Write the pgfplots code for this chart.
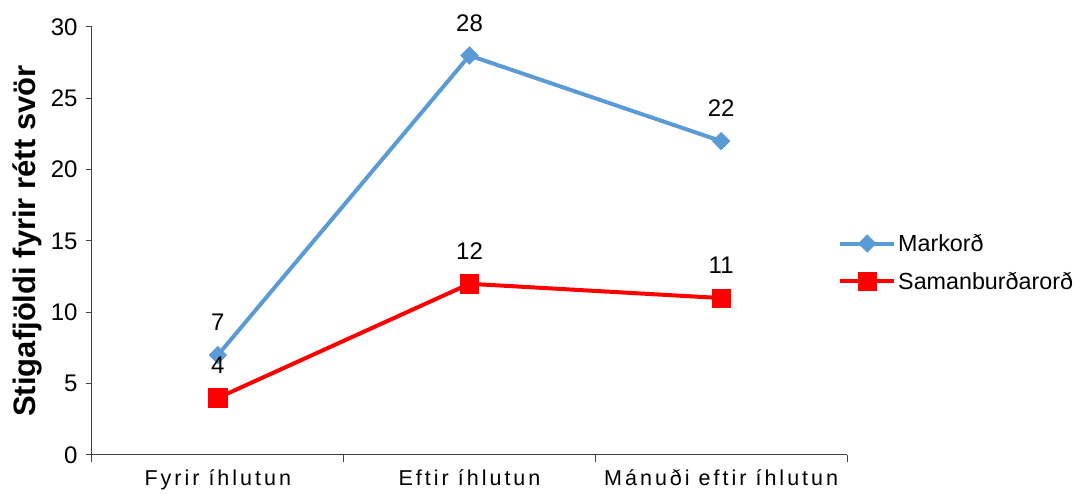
\documentclass[border=0pt]{standalone}
\usepackage{fontspec}
\setmainfont{Liberation Sans}
\newfontfamily\spaced[LetterSpace=14]{Liberation Sans}
\usepackage{pgfplots}
\pgfplotsset{compat=1.18}
\usetikzlibrary{calc}
\definecolor{markord}{HTML}{5B9BD5}
\definecolor{saman}{HTML}{FF0000}
\definecolor{axline}{HTML}{404040}

\begin{document}
\begin{tikzpicture}
\begin{axis}[
  width=755pt, height=428pt, scale only axis,
  xmin=-0.5, xmax=2.5, ymin=0, ymax=30,
  axis lines=left, axis line style={-, axline, line width=1pt},
  xtick={0,1,2},
  xticklabels={Fyrir íhlutun, Eftir íhlutun, Mánuði eftir íhlutun},
  minor xtick={-0.5,0.5,1.5,2.5},
  ytick={0,5,...,30},
  tick align=outside, major tick length=6pt, minor tick length=7pt,
  major x tick style={draw=none},
  minor x tick style={axline, line width=1pt},
  y tick style={axline, line width=1pt},
  xticklabel style={font=\spaced\fontsize{21.5}{25}\selectfont, yshift=-5pt},
  yticklabel style={font=\fontsize{24}{28}\selectfont, xshift=-5pt},
  /pgf/number format/assume math mode=true,
  ylabel={\bfseries Stigafjöldi fyrir rétt svör},
  ylabel style={font=\fontsize{31}{36}\selectfont, yshift=2pt},
  nodes near coords,
  every node near coord/.append style={font=\fontsize{24}{28}\selectfont, text=black, inner sep=0pt, anchor=south, yshift=24pt},
  legend style={draw=none, fill=none, at={(1,0.45)}, anchor=west, xshift=-12pt,
    font=\fontsize{23.3}{27}\selectfont, row sep=15pt, cells={anchor=west}},
  legend image code/.code={\draw[mark repeat=2,mark phase=2] plot coordinates {(0pt,0pt)(27pt,0pt)(54pt,0pt)};},
  clip=false]
\addplot[markord, line width=4pt, mark=diamond*, mark size=8.8pt,
  mark options={xscale=1.33, line width=0.5pt}]
  coordinates {(0,7) (1,28) (2,22)};
\addlegendentry{Markorð}
\addplot[saman, line width=4pt, mark=square*, mark size=9.2pt,
  mark options={line width=0.5pt}]
  coordinates {(0,4) (1,12) (2,11)};
\addlegendentry{Samanburðarorð}
\end{axis}
\pgfresetboundingbox
\path[use as bounding box] ($(current axis.south west)+(-92pt,-39pt)$) rectangle ($(current axis.north east)+(233pt,27pt)$);
\end{tikzpicture}
\end{document}
